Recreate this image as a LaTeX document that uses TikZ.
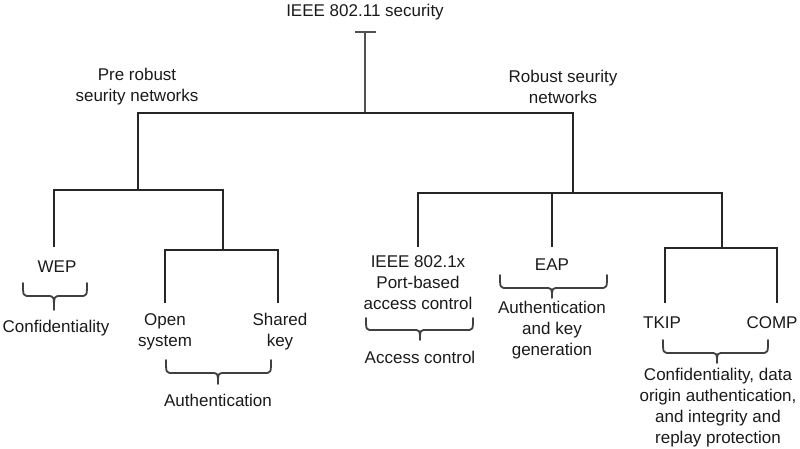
\documentclass[tikz,border=0pt]{standalone}
\usepackage{fontspec}
\setmainfont{Liberation Sans}
\definecolor{ink}{HTML}{1A1A1A}
\definecolor{wire}{HTML}{262626}
\definecolor{bracecol}{HTML}{404040}
\tikzset{
  lbl/.style={text=ink, font=\fontsize{17}{21}\selectfont, align=center, inner sep=0pt},
  bar/.style={draw=wire, line width=2.8pt, line cap=rect},
  stem/.style={draw=wire, line width=2.4pt},
  thinstem/.style={draw=wire!80, line width=1.9pt},
  brc/.style={draw=bracecol, line width=1.8pt, line cap=round, line join=round}
}
% \curlybr{x1}{x2}{xm}{ytop}{h1}{h2}
\newcommand{\curlybr}[6]{%
  \draw[brc] (#1,#4) .. controls (#1,{#4+#5}) .. ({#1+7},{#4+#5})
    -- ({#3-7},{#4+#5}) .. controls (#3,{#4+#5}) .. (#3,{#4+#5+#6})
    .. controls (#3,{#4+#5}) .. ({#3+7},{#4+#5})
    -- ({#2-7},{#4+#5}) .. controls (#2,{#4+#5}) .. (#2,#4);}
\begin{document}
\begin{tikzpicture}[x=1pt,y=-1pt]
\useasboundingbox (0,0) rectangle (800,448);
% texts
\node[lbl] (root) at (365,12) {IEEE 802.11 security};
\node[lbl] (pre) at (137,87) {Pre robust\\seurity networks};
\node[lbl] (rob) at (563,87) {Robust seurity\\networks};
\node[lbl] (wep) at (57,267) {WEP};
\node[lbl] (conf) at (56,328) {Confidentiality};
\node[lbl] (open) at (165,332) {Open\\system};
\node[lbl] (shared) at (280,332) {Shared\\key};
\node[lbl] (auth) at (218,400) {Authentication};
\node[lbl] (ieee) at (418,283) {IEEE 802.1x\\Port-based\\access control};
\node[lbl] (acc) at (420,357) {Access control};
\node[lbl] (eap) at (552,265) {EAP};
\node[lbl] (akg) at (552,330) {Authentication\\and key\\generation};
\node[lbl] (tkip) at (662,323) {TKIP};
\node[lbl] (comp) at (772,323) {COMP};
\node[lbl] (cdo) at (718,408) {Confidentiality, data\\origin authentication,\\and integrity and\\replay protection};
% junction coordinates
\coordinate (tL) at (355,32);
\coordinate (tR) at (376,32);
\coordinate (tC) at (365,32);
\coordinate (mC) at (365,113);
\coordinate (mL) at (138,113);
\coordinate (mR) at (573,113);
\coordinate (lB) at (138,190);
\coordinate (lL) at (54,190);
\coordinate (lR) at (223,190);
\coordinate (wepE) at (54,247);
\coordinate (aC) at (223,250);
\coordinate (aL) at (165,250);
\coordinate (aR) at (278,250);
\coordinate (openE) at (165,303);
\coordinate (sharedE) at (278,303);
\coordinate (rB) at (573,193);
\coordinate (r1) at (418,193);
\coordinate (r2) at (552,193);
\coordinate (r3) at (722,193);
\coordinate (ieeeE) at (418,247);
\coordinate (eapE) at (552,247);
\coordinate (cC) at (722,248);
\coordinate (cL) at (665,248);
\coordinate (cR) at (777,248);
\coordinate (tkipE) at (665,303);
\coordinate (compE) at (777,303);
% tree
\draw[thinstem] (tL) -- (tR);
\draw[thinstem] (tC) -- (mC);
\draw[bar] (mL) -- (mR);
\draw[stem] (mL) -- (lB);
\draw[bar] (lL) -- (lR);
\draw[stem] (lL) -- (wepE);
\draw[stem] (lR) -- (aC);
\draw[bar] (aL) -- (aR);
\draw[stem] (aL) -- (openE);
\draw[stem] (aR) -- (sharedE);
\draw[stem] (mR) -- (rB);
\draw[bar] (r1) -- (r3);
\draw[stem] (r1) -- (ieeeE);
\draw[stem] (r2) -- (eapE);
\draw[stem] (r3) -- (cC);
\draw[bar] (cL) -- (cR);
\draw[stem] (cL) -- (tkipE);
\draw[stem] (cR) -- (compE);
% braces
\curlybr{23}{87}{54}{283}{13}{14}
\curlybr{166}{271}{218}{360}{13}{11}
\curlybr{366}{473}{420}{318}{12}{10}
\curlybr{500}{607}{552}{275}{13}{10}
\curlybr{663}{768}{717}{340}{13}{10}
\end{tikzpicture}
\end{document}
